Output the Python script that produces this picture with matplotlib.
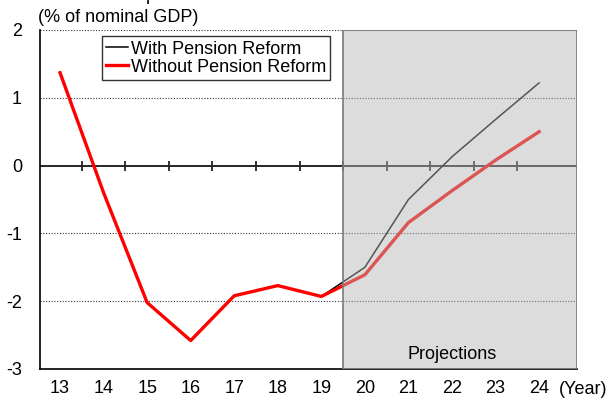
import matplotlib
matplotlib.use("Agg")
import matplotlib.pyplot as plt
import numpy as np

plt.rcParams['font.family'] = ['Liberation Sans', 'DejaVu Sans']

years = [13, 14, 15, 16, 17, 18, 19, 20, 21, 22, 23, 24]
year_labels = ["13", "14", "15", "16", "17", "18", "19", "20", "21", "22", "23", "24"]
without_reform = [1.37, -0.40, -2.02, -2.58, -1.92, -1.77, -1.93, -1.61, -0.84, -0.37, 0.08, 0.50]
with_reform_years = [19, 20, 21, 22, 23, 24]
with_reform = [-1.93, -1.50, -0.50, 0.13, 0.68, 1.22]
projection_start = 19.5

fig = plt.figure(figsize=(6.1, 4.0), dpi=100)
ax = fig.add_axes([40/610, 1-369/400, 537/610, 339/400])
ax.set_xlim(12.54, 24.87)
ax.set_ylim(-3, 2)

# gridlines
for yv in [2, 1, -1, -2]:
    ax.axhline(yv, color='#333333', linestyle=(0, (1, 1.5)), linewidth=0.8, zorder=1)

# zero axis with half-step ticks
ax.axhline(0, color='black', linewidth=1.2, zorder=2)
half = np.arange(years[0] + 0.5, years[-1], 1.0)
ax.plot(half, np.zeros_like(half), linestyle='none', marker='|', markersize=7.5,
        markeredgewidth=1.3, color='#222222', zorder=2)

l1, = ax.plot(with_reform_years, with_reform, color='black', linewidth=1.1, zorder=3,
              label='With Pension Reform')
l2, = ax.plot(years, without_reform, color='#ff0000', linewidth=2.4, zorder=3,
              label='Without Pension Reform')

# projection shading drawn over lines
ax.axvspan(projection_start, 24.87, facecolor=(181/255, 181/255, 181/255, 0.47),
           edgecolor='#7a7a7a', linewidth=1.2, zorder=5)
ax.text(22.0, -2.78, 'Projections', ha='center', va='center', fontsize=13, zorder=6)

ax.spines['top'].set_visible(False)
ax.spines['right'].set_visible(False)
ax.spines['left'].set_linewidth(1.2)
ax.spines['bottom'].set_linewidth(1.2)

ax.set_xticks(years)
ax.set_xticklabels(year_labels)
ax.set_yticks([2, 1, 0, -1, -2, -3])
ax.set_yticklabels(['2', '1', '0', '-1', '-2', '-3'])
ax.tick_params(axis='x', length=0, pad=8, labelsize=13)
ax.tick_params(axis='y', length=0, pad=13, labelsize=13)

leg = ax.legend(handles=[l1, l2], loc='upper left', bbox_to_anchor=(0.115, 0.982),
                fontsize=13, frameon=True, fancybox=False, edgecolor='black',
                handlelength=1.2, handletextpad=0.15, borderpad=0.25, labelspacing=0.05,
                borderaxespad=0)
leg.get_frame().set_linewidth(1.0)
leg.set_zorder(7)

fig.text(38/610, 1-18/400, '(% of nominal GDP)', ha='left', va='center', fontsize=13)
fig.text(607/610, 1-390/400, '(Year)', ha='right', va='center', fontsize=13)
fig.text(0.5, 1.0, "Japan's General Government Fiscal Balance", ha='center',
         va='baseline', fontsize=13)

fig.savefig('out.png', dpi=100)
